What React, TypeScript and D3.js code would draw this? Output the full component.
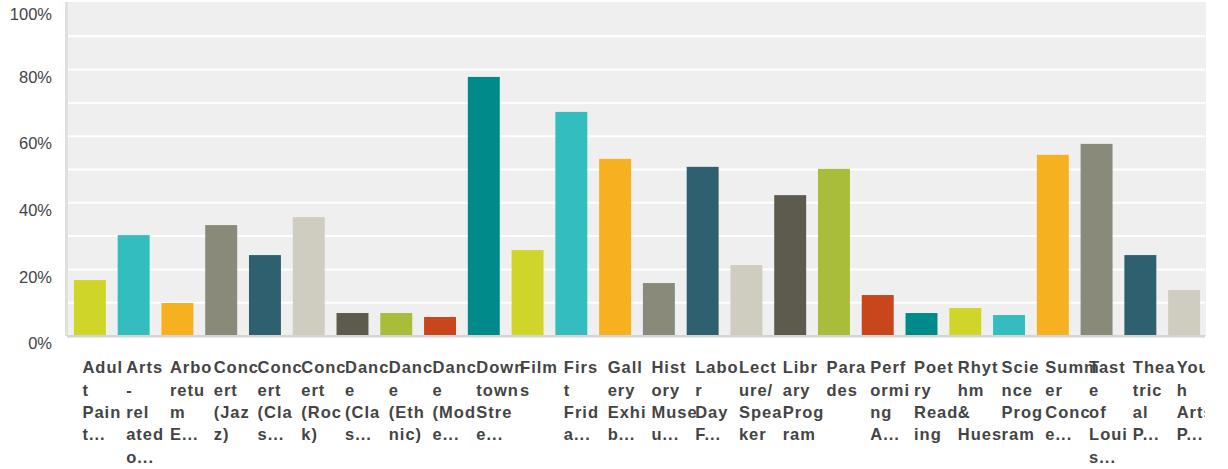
import React from "react";
import * as d3 from "d3";

// Event categories, as wrapped tick-label lines
const categoryLines: string[][] = [
  ["Adul", "t", "Pain", "t..."],
  ["Arts", "-", "rel", "ated", "o..."],
  ["Arbo", "retu", "m", "E..."],
  ["Conc", "ert", "(Jaz", "z)"],
  ["Conc", "ert", "(Cla", "s..."],
  ["Conc", "ert", "(Roc", "k)"],
  ["Danc", "e", "(Cla", "s..."],
  ["Danc", "e", "(Eth", "nic)"],
  ["Danc", "e", "(Mod", "e..."],
  ["Down", "town", "Stre", "e..."],
  ["Film", "s"],
  ["Firs", "t", "Frid", "a..."],
  ["Gall", "ery", "Exhi", "b..."],
  ["Hist", "ory", "Muse", "u..."],
  ["Labo", "r", "Day", "F..."],
  ["Lect", "ure/", "Spea", "ker"],
  ["Libr", "ary", "Prog", "ram"],
  ["Para", "des"],
  ["Perf", "ormi", "ng", "A..."],
  ["Poet", "ry", "Read", "ing"],
  ["Rhyt", "hm", "&", "Hues"],
  ["Scie", "nce", "Prog", "ram"],
  ["Summ", "er", "Conc", "e..."],
  ["Tast", "e", "of", "Loui", "s..."],
  ["Thea", "tric", "al", "P..."],
  ["Yout", "h", "Arts", "P..."],
];

// Share of respondents per category (fraction)
const shares: number[] = [
  0.168, 0.303, 0.099, 0.333, 0.243, 0.357, 0.069, 0.069, 0.057, 0.778,
  0.258, 0.673, 0.532, 0.159, 0.508, 0.213, 0.423, 0.502, 0.123, 0.069,
  0.084, 0.063, 0.544, 0.577, 0.243, 0.138,
];

const yTicks: number[] = [0, 0.2, 0.4, 0.6, 0.8, 1];
const gridTicks: number[] = [0.1, 0.2, 0.3, 0.4, 0.5, 0.6, 0.7, 0.8, 0.9];

const palette: string[] = [
  "#d0d52a", "#33bdbf", "#f6b020", "#8a8a7a", "#2e6070",
  "#cfcdbf", "#5c5b4d", "#aabd3a", "#c9461c", "#008a8a",
];

const W = 1228;
const H = 469;
const plotLeft = 68;
const plotRight = 1206;
const plotTop = 2;
const plotBottom = 336;

export default function App() {
  const x = d3
    .scaleBand<number>()
    .domain(d3.range(shares.length))
    .range([plotLeft, plotRight])
    .paddingInner(0.27)
    .paddingOuter(0.135);
  const y = d3.scaleLinear().domain([0, 1]).range([plotBottom, 3]);
  const fmt = d3.format(".0%");

  return (
    <svg
      width={W}
      height={H}
      style={{ position: "absolute", left: 0, top: 0, background: "#fff" }}
    >
      <defs>
        <clipPath id="label-clip">
          <rect x={0} y={0} width={1205} height={H} />
        </clipPath>
      </defs>
      <rect
        x={plotLeft}
        y={plotTop}
        width={plotRight - plotLeft}
        height={plotBottom - plotTop}
        fill="#efefef"
      />
      {gridTicks.map((t) => (
        <line
          key={t}
          x1={plotLeft}
          x2={plotRight - 1}
          y1={y(t)}
          y2={y(t)}
          stroke="#ffffff"
          strokeWidth={2}
        />
      ))}
      <rect x={65} y={plotTop} width={3} height={plotBottom - plotTop} fill="#e0e0e0" />
      {shares.map((v, i) => (
        <rect
          key={i}
          x={x(i)}
          y={y(v)}
          width={x.bandwidth()}
          height={y(0) - y(v)}
          fill={palette[i % palette.length]}
        />
      ))}
      <rect x={67} y={plotBottom - 1} width={plotRight - 1 - 67} height={2.5} fill="#d4d4d4" />
      {yTicks.map((t) => (
        <text
          key={t}
          x={52}
          y={Math.max(y(t) + 7.3, 14.3) + 5.9}
          textAnchor="end"
          fontFamily="'Liberation Sans', Arial, sans-serif"
          fontSize={16.5}
          fill="#444"
        >
          {fmt(t)}
        </text>
      ))}
      <g clipPath="url(#label-clip)">
        {categoryLines.map((lines, i) => (
          <text
            key={i}
            x={(x(i) as number) + 8.5}
            y={373.3}
            fontFamily="'Liberation Sans', Arial, sans-serif"
            fontWeight="bold"
            fontSize={16.5}
            letterSpacing={1}
            fill="#444"
          >
            {lines.map((ln, j) => (
              <tspan key={j} x={(x(i) as number) + 8.5} dy={j === 0 ? 0 : 22.3}>
                {ln}
              </tspan>
            ))}
          </text>
        ))}
      </g>
    </svg>
  );
}
